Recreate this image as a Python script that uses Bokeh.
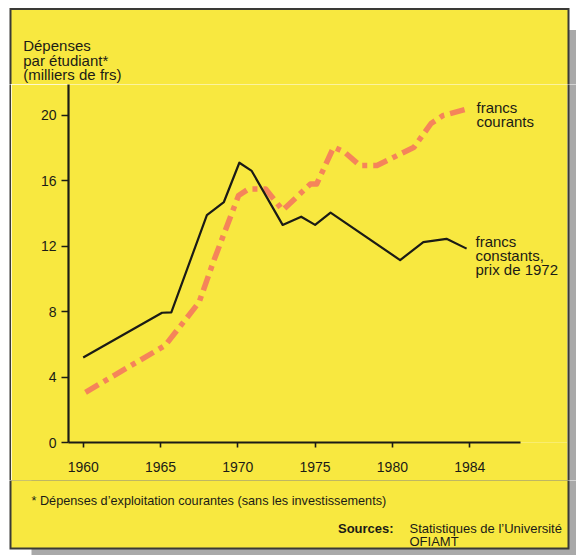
from bokeh.plotting import figure
from bokeh.models import Label, FixedTicker, Range1d
from bokeh.layouts import column, row
from bokeh.core.properties import value
from bokeh.embed import file_html
from bokeh.resources import INLINE

# ---- data ----
years_constants = [1960.0, 1965.1, 1965.7, 1968.0, 1969.1, 1970.1, 1970.9, 1972.9,
                   1974.1, 1975.0, 1976.0, 1980.5, 1982.0, 1983.5, 1984.8]
values_constants = [5.2, 7.93, 7.95, 13.9, 14.7, 17.1, 16.6, 13.3,
                    13.8, 13.3, 14.05, 11.15, 12.25, 12.45, 11.85]

years_courants = [1960.15, 1965.3, 1967.5, 1968.45, 1970.05, 1970.7, 1971.8, 1972.9,
                  1974.7, 1975.1, 1976.2, 1976.9, 1977.9, 1979.0, 1981.4, 1982.5,
                  1983.3, 1984.9]
values_courants = [3.07, 5.93, 8.58, 11.12, 15.1, 15.5, 15.5, 14.2,
                   15.8, 15.8, 18.05, 17.75, 16.93, 16.93, 18.05, 19.5,
                   20.0, 20.4]

x_tick_positions = [1960, 1965, 1970, 1975, 1980, 1985]
x_tick_labels = ["1960", "1965", "1970", "1975", "1980", "1984"]
y_ticks = [0, 4, 8, 12, 16, 20]

title_lines = ["Dépenses", "par étudiant*", "(milliers de frs)"]
label_courants = ["francs", "courants"]
label_constants = ["francs", "constants,", "prix de 1972"]
footnote = "* Dépenses d’exploitation courantes (sans les investissements)"
sources_head = "Sources:"
sources_lines = ["Statistiques de l’Université", "OFIAMT"]

# ---- styling ----
YELLOW = "#F8E840"
INK = "#1b1b16"
FRAME = "#3a3a36"
SHADOW = "#A9A9A9"
ORANGE = "#F5845A"
FONT = "Liberation Sans"

# page layout (pixels from the top-left of the page)
PAGE_W, PAGE_H = 576, 555
CARD_L, CARD_R, CARD_T, CARD_B = 9, 569, 7.5, 549
BW = 2                       # card border width
SH_X, SH_Y = 22, 22          # drop shadow offset
HEAD_B = 84                  # top of plot frame
MID_B = 480                  # bottom of the axis block
LEFT_W = 11                  # left strip width
RIGHT_X = 567                # right strip start


def deco_fig(x_a, x_b, y_a, y_b):
    """A figure whose data coordinates are page pixels (y downwards)."""
    f = figure(width=int(x_b - x_a), height=int(y_b - y_a), title=None,
               x_range=Range1d(x_a, x_b), y_range=Range1d(y_b, y_a),
               output_backend="svg", toolbar_location=None,
               x_axis_location=None, y_axis_location=None,
               min_border=0, frame_align=False)
    f.outline_line_color = None
    f.grid.visible = False
    f.background_fill_color = "white"
    f.border_fill_color = "white"
    # drop shadow
    f.quad(left=[CARD_L + SH_X], right=[PAGE_W + 20], top=[CARD_T + SH_Y],
           bottom=[PAGE_H + 20], color=SHADOW, line_color=None)
    # card with border
    f.quad(left=[CARD_L], right=[CARD_R], top=[CARD_T], bottom=[CARD_B],
           color=FRAME, line_color=None)
    f.quad(left=[CARD_L + BW], right=[CARD_R - BW], top=[CARD_T + BW],
           bottom=[CARD_B - BW], color=YELLOW, line_color=None)
    return f


def ptext(f, xs, ys, texts, size, style="normal"):
    f.text(x=xs, y=ys, text=texts, text_font=value(FONT),
           text_font_size=value(size), text_font_style=style,
           text_color=INK, text_align="left", text_baseline="alphabetic")


# ---- header ----
header = deco_fig(0, PAGE_W, 0, HEAD_B)
ptext(header, [22.7] * 3, [45.2 + i * 14.4 for i in range(3)], title_lines, "15px")

# ---- footer ----
footer = deco_fig(0, PAGE_W, MID_B, PAGE_H)
ptext(footer, [31], [500.5], [footnote], "12.7px")
ptext(footer, [337.5], [527.5], [sources_head], "13px", "bold")
ptext(footer, [409, 409], [527.5, 541], sources_lines, "13px")

# ---- side strips (card border + shadow beside the plot) ----
left = deco_fig(0, LEFT_W, HEAD_B, MID_B)
right = deco_fig(RIGHT_X, PAGE_W, HEAD_B, MID_B)

# ---- main chart ----
PX_PER_YEAR = 15.46
PX_PER_UNIT = 16.36
X_1960 = 82.7
Y_ZERO = 442


def dx(sx):
    return 1960 + (sx - X_1960) / PX_PER_YEAR


def dy(sy):
    return (Y_ZERO - sy) / PX_PER_UNIT


frame_left, frame_right = 68, RIGHT_X
p = figure(width=RIGHT_X - LEFT_W, height=MID_B - HEAD_B, title=None,
           output_backend="svg", toolbar_location=None, frame_align=False,
           x_range=Range1d(dx(frame_left), dx(frame_right)),
           y_range=Range1d(0, dy(HEAD_B)),
           min_border_left=frame_left - LEFT_W, min_border_right=0,
           min_border_top=0, min_border_bottom=MID_B - Y_ZERO)
p.border_fill_color = YELLOW
p.background_fill_color = YELLOW
p.outline_line_color = None
p.grid.visible = False

p.xaxis.ticker = FixedTicker(ticks=x_tick_positions)
p.xaxis.major_label_overrides = {t: l for t, l in zip(x_tick_positions, x_tick_labels)}
p.xaxis.bounds = (dx(frame_left), dx(520))
p.yaxis.ticker = FixedTicker(ticks=y_ticks)
for ax in (p.xaxis, p.yaxis):
    ax.axis_line_color = INK
    ax.axis_line_width = 2.2
    ax.major_tick_line_color = INK
    ax.major_tick_line_width = 1.6
    ax.major_tick_in = 0
    ax.minor_tick_line_color = None
    ax.major_label_text_font = FONT
    ax.major_label_text_color = INK
p.xaxis.major_tick_out = 5
p.xaxis.major_label_standoff = 14
p.xaxis.major_label_text_font_size = "14px"
p.yaxis.major_tick_out = 7
p.yaxis.major_label_standoff = 5
p.yaxis.major_label_text_font_size = "14px"

p.line(years_courants, values_courants, line_color=ORANGE, line_width=5.5,
       line_dash="15 6 5 6", line_cap="butt", line_join="round")
p.line(years_constants, values_constants, line_color=INK, line_width=2.2,
       line_join="round")


def add_label(sx, sy, txt):
    p.add_layout(Label(x=dx(sx), y=dy(sy), text=txt, text_font=FONT,
                       text_font_size="15px", text_color=INK,
                       text_align="left", text_baseline="alphabetic"))


for i, t in enumerate(label_courants):
    add_label(476, 107 + i * 14, t)
for i, t in enumerate(label_constants):
    add_label(475, 241 + i * 14.2, t)

layout = column(header, row(left, p, right), footer)

open("out.html", "w").write(file_html(layout, INLINE))
